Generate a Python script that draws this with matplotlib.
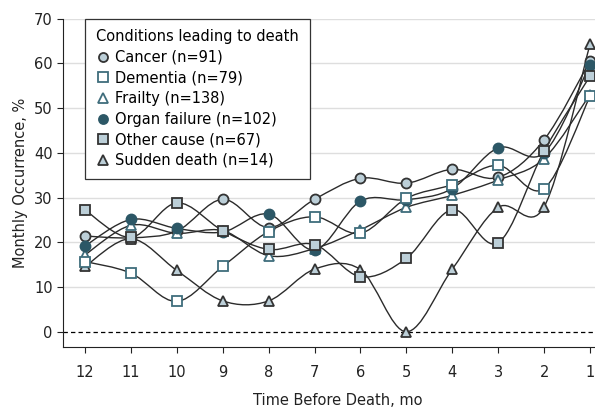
import matplotlib
matplotlib.use("Agg")
import matplotlib.pyplot as plt
from matplotlib.path import Path
from matplotlib.patches import PathPatch
import numpy as np

plt.rcParams['font.family'] = ['Liberation Sans Narrow', 'DejaVu Sans']

# Months before death, and monthly occurrence (%) for each condition
months = [12, 11, 10, 9, 8, 7, 6, 5, 4, 3, 2, 1]
cancer = [21.4, 21.0, 22.5, 29.6, 23.3, 29.6, 34.3, 33.2, 36.3, 34.5, 42.9, 60.5]
dementia = [15.7, 13.1, 6.8, 14.6, 22.4, 25.7, 22.0, 29.8, 32.9, 37.2, 32.0, 52.6]
frailty = [17.2, 23.8, 22.0, 22.6, 17.0, 18.6, 22.8, 27.8, 30.5, 33.9, 38.7, 53.0]
organ_failure = [19.2, 25.1, 23.1, 22.3, 26.3, 18.3, 29.2, 29.5, 32.0, 41.1, 40.0, 59.7]
other_cause = [27.2, 21.1, 28.8, 22.6, 18.4, 19.5, 12.3, 16.4, 27.3, 19.9, 40.4, 57.1]
sudden_death = [14.6, 20.8, 13.7, 6.9, 6.9, 14.0, 13.9, 0.0, 14.0, 27.8, 27.9, 64.2]

labels = ['Cancer (n=91)', 'Dementia (n=79)', 'Frailty (n=138)',
          'Organ failure (n=102)', 'Other cause (n=67)', 'Sudden death (n=14)']

light = '#bccfd8'
dark = '#2c5766'
teal_edge = '#3f6d7c'
edge = '#333333'

# label, values, marker, face, edgecolor, size, z-order
series = [
    (labels[0], cancer, 'o', light, edge, 7.2, 3),
    (labels[1], dementia, 's', 'white', teal_edge, 6.6, 8),
    (labels[2], frailty, '^', 'white', teal_edge, 7.4, 4),
    (labels[3], organ_failure, 'o', dark, dark, 7.2, 5),
    (labels[4], other_cause, 's', light, edge, 6.6, 7),
    (labels[5], sudden_death, '^', light, edge, 7.4, 6),
]


def smooth_path(x, y):
    # Catmull-Rom curve through the points, expressed as cubic Bezier segments
    x = np.asarray(x, float)
    y = np.asarray(y, float)
    pts = np.column_stack([x, y])
    ext = np.vstack([pts[0], pts, pts[-1]])
    verts = [pts[0]]
    codes = [Path.MOVETO]
    for i in range(len(pts) - 1):
        p0, p1, p2, p3 = ext[i], ext[i + 1], ext[i + 2], ext[i + 3]
        c1 = p1 + (p2 - p0) / 6.0
        c2 = p2 - (p3 - p1) / 6.0
        verts += [c1, c2, p2]
        codes += [Path.CURVE4] * 3
    return Path(verts, codes)


fig = plt.figure(figsize=(5.95, 4.07), dpi=100)
ax = fig.add_axes([63 / 595, 0.1474, 549 / 595, 0.8071])

for lab, vals, mk, fc, ec, ms, z in series:
    ax.add_patch(PathPatch(smooth_path(months, vals), facecolor='none',
                           edgecolor='#2b2b2b', lw=1.0, zorder=2))
    ax.plot(months, vals, linestyle='none', marker=mk, markersize=ms,
            markerfacecolor=fc, markeredgecolor=ec, markeredgewidth=1.3,
            zorder=z, label=lab)

ax.axhline(0, color='black', lw=0.9, ls=(0, (3.5, 2.5)), zorder=1)

ax.set_xlim(12.48, 0.52)
ax.set_ylim(-3.4, 70)
ax.set_xticks(months)
ax.set_yticks(range(0, 71, 10))
for yv in range(10, 71, 10):
    ax.axhline(yv, color='#dedede', lw=1.0, zorder=0)

ax.spines['top'].set_visible(False)
ax.spines['right'].set_visible(False)
ax.spines['left'].set_color('#222222')
ax.spines['bottom'].set_color('#222222')
ax.tick_params(axis='both', labelsize=10.5, colors='#222222', length=4, width=0.8)
ax.tick_params(axis='x', pad=9)

ax.set_xlabel('Time Before Death, mo', fontsize=10.5, color='#222222', labelpad=9)
ax.set_ylabel('Monthly Occurrence, %', fontsize=10.5, color='#222222', labelpad=4)

handles, labs = ax.get_legend_handles_labels()
leg = ax.legend([handles[labs.index(l)] for l in labels], labels,
                title='Conditions leading to death', loc='upper left',
                bbox_to_anchor=(0.04, 1.0), borderaxespad=0, fontsize=10.5,
                title_fontsize=10.5, alignment='left', fancybox=False,
                framealpha=1, edgecolor='#333333', handletextpad=0.3,
                handlelength=1.0, labelspacing=0.38, borderpad=0.75)
leg.get_frame().set_linewidth(0.9)
for h in leg.legend_handles:
    h.set_markersize(6.5)

fig.savefig('out.png', dpi=100)
